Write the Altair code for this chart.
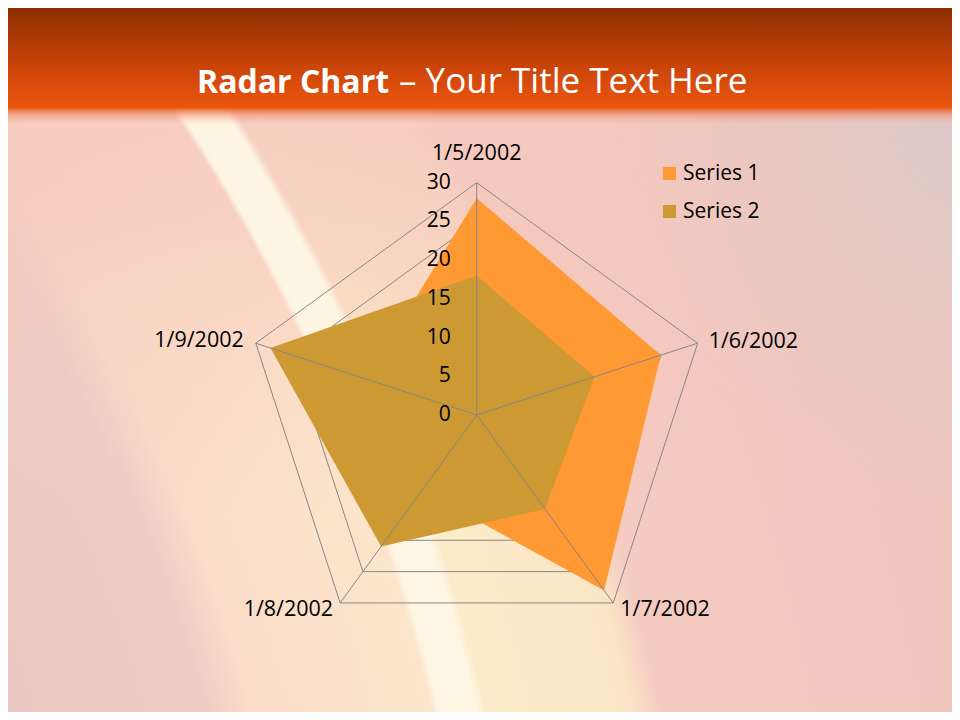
import math
import altair as alt
import pandas as pd

# ---------------- data ----------------
categories = ["1/5/2002", "1/6/2002", "1/7/2002", "1/8/2002", "1/9/2002"]
series_names = ["Series 1", "Series 2"]
series1 = [28, 25, 28, 12, 15]
series2 = [18, 16, 15, 21, 28]
tick_values = [0, 5, 10, 15, 20, 25, 30]
title_bold = "Radar Chart"
title_rest = "– Your Title Text Here"

# ---------------- layout / style ----------------
W, H = 944, 704
CX, CY = 468.7, 407.0
R_PX = 232.3
VMAX = 30
K = R_PX / VMAX
FONT = "Open Sans"
C_S1 = "#FF9933"
C_S2 = "#CC9933"
GRID = "#878787"

xs = alt.Scale(domain=[-CX / K, (W - CX) / K], nice=False, zero=False)
ys = alt.Scale(domain=[-(H - CY) / K, CY / K], nice=False, zero=False)
n = len(categories)


def polar(v, i):
    a = math.radians(90 - 72 * i)
    return v * math.cos(a), v * math.sin(a)


poly_rows = []
for name, vals in zip(series_names, [series1, series2]):
    for j in range(n + 1):
        i = j % n
        x, y = polar(vals[i], i)
        poly_rows.append({"series": name, "category": categories[i],
                          "value": vals[i], "x": x, "y": y, "ord": j})
poly = pd.DataFrame(poly_rows)

grid_rows = []
for lv in tick_values[1:]:
    for j in range(n + 1):
        i = j % n
        x, y = polar(lv, i)
        grid_rows.append({"level": lv, "x": x, "y": y, "ord": j})
grid = pd.DataFrame(grid_rows)

spokes = pd.DataFrame([
    {"category": c, "x": 0.0, "y": 0.0,
     "x2": polar(VMAX, i)[0], "y2": polar(VMAX, i)[1]}
    for i, c in enumerate(categories)
])

# label placement (pixel offsets from the outer vertex)
label_style = {
    "1/5/2002": ("center", 0, -29),
    "1/6/2002": ("left", 11, -1),
    "1/7/2002": ("left", 7, 7),
    "1/8/2002": ("right", -7, 7),
    "1/9/2002": ("right", -12, -2),
}
lab_rows = []
for i, c in enumerate(categories):
    vx, vy = polar(VMAX, i)
    al, ox, oy = label_style[c]
    lab_rows.append({"category": c, "align": al,
                     "x": vx + ox / K, "y": vy - oy / K})
labels = pd.DataFrame(lab_rows)

ticks = pd.DataFrame({"value": tick_values,
                      "label": [str(t) for t in tick_values]})
ticks["x"] = -26 / K

one = pd.DataFrame({"a": [0]})

# ---------------- background ----------------
RC = 2600.0
bu = -1391 / 944
bv = (1134 + 120) / 944


def off(d):
    return round(d / RC, 4)


bg_radial = {
    "gradient": "radial", "x1": bu, "y1": bv, "r1": 0,
    "x2": bu, "y2": bv, "r2": RC / 944,
    "stops": [
        {"offset": 0, "color": "#E4C4C2"},
        {"offset": off(1400), "color": "#E8C8C3"},
        {"offset": off(1640), "color": "#EECBC4"},
        {"offset": off(1690), "color": "#FADCC8"},
        {"offset": off(1860), "color": "#FCE5CB"},
        {"offset": off(1930), "color": "#FCEDC9"},
        {"offset": off(2060), "color": "#FBE5C6"},
        {"offset": off(2090), "color": "#F5CAC1"},
        {"offset": off(2350), "color": "#F1C6BE"},
        {"offset": 1, "color": "#EAC4C0"},
    ],
}
pink_overlay = {
    "gradient": "linear", "x1": 0, "y1": 0, "x2": 0, "y2": 1,
    "stops": [
        {"offset": 0, "color": "rgba(246,200,189,0.95)"},
        {"offset": 0.3, "color": "rgba(246,200,189,0.7)"},
        {"offset": 0.5, "color": "rgba(246,200,189,0.3)"},
        {"offset": 0.72, "color": "rgba(246,200,189,0)"},
        {"offset": 1, "color": "rgba(246,200,189,0)"},
    ],
}
band = {
    "gradient": "radial", "x1": bu, "y1": bv, "r1": 0,
    "x2": bu, "y2": bv, "r2": RC / 944,
    "stops": [
        {"offset": 0, "color": "rgba(254,246,228,0)"},
        {"offset": off(1866), "color": "rgba(254,246,228,0)"},
        {"offset": off(1872), "color": "rgba(254,246,228,0.95)"},
        {"offset": off(1910), "color": "rgba(254,246,228,0.95)"},
        {"offset": off(1918), "color": "rgba(254,246,228,0)"},
        {"offset": 1, "color": "rgba(254,246,228,0)"},
    ],
}
corner = {
    "gradient": "radial", "x1": 972 / 944, "y1": (112 + 120) / 944, "r1": 0,
    "x2": 972 / 944, "y2": (112 + 120) / 944, "r2": 380 / 944,
    "stops": [
        {"offset": 0, "color": "rgba(212,200,200,0.75)"},
        {"offset": 1, "color": "rgba(212,200,200,0)"},
    ],
}
header = {
    "gradient": "linear", "x1": 0, "y1": 0, "x2": 0, "y2": 1,
    "stops": [
        {"offset": 0, "color": "#8C2E00"},
        {"offset": 0.44, "color": "#C44107"},
        {"offset": 0.79, "color": "#E6530E"},
        {"offset": 0.85, "color": "#E8560F"},
        {"offset": 0.9, "color": "rgba(238,120,80,0.6)"},
        {"offset": 1, "color": "rgba(244,190,175,0)"},
    ],
}


def full_rect(fill, y2=H):
    return alt.Chart(one).mark_rect(fill=fill).encode(
        x=alt.value(0), x2=alt.value(W), y=alt.value(0), y2=alt.value(y2))


bg_layers = [full_rect(bg_radial), full_rect(pink_overlay), full_rect(band),
             full_rect(corner), full_rect(header, 117)]

title_a = alt.Chart(pd.DataFrame({"t": [title_bold]})).mark_text(
    align="left", baseline="alphabetic", font=FONT, fontSize=32,
    fontWeight="bold", color="white").encode(
    x=alt.value(189), y=alt.value(85), text="t:N")
title_b = alt.Chart(pd.DataFrame({"t": [title_rest]})).mark_text(
    align="left", baseline="alphabetic", font=FONT, fontSize=35,
    fontWeight="normal", color="white").encode(
    x=alt.value(391), y=alt.value(85), text="t:N")

X = alt.X("x:Q", scale=xs, axis=None)
Y = alt.Y("y:Q", scale=ys, axis=None)

grid_layer = alt.Chart(grid).mark_line(color=GRID, strokeWidth=1).encode(
    x=X, y=Y, detail="level:N", order="ord:Q")

color = alt.Color(
    "series:N",
    scale=alt.Scale(domain=series_names, range=[C_S1, C_S2]),
    legend=alt.Legend(
        title=None, orient="none", legendX=651, legendY=155,
        symbolType="square", symbolSize=169, symbolStrokeWidth=0,
        labelFont=FONT, labelFontSize=21, labelColor="black",
        labelOffset=3, rowPadding=16, padding=0, symbolOpacity=1),
)

fill1 = alt.Chart(poly).transform_filter(
    alt.datum.series == series_names[0]).mark_line(
    filled=True, opacity=1).encode(x=X, y=Y, color=color, order="ord:Q")
fill2 = alt.Chart(poly).transform_filter(
    alt.datum.series == series_names[1]).mark_line(
    filled=True, opacity=1).encode(x=X, y=Y, color=color, order="ord:Q")

spoke_layer = alt.Chart(spokes).mark_rule(color=GRID, strokeWidth=1).encode(
    x=X, y=Y, x2="x2:Q", y2="y2:Q")

tick_layer = alt.Chart(ticks).mark_text(
    align="right", baseline="middle", font=FONT, fontSize=21,
    color="black").encode(
    x=X, y=alt.Y("value:Q", scale=ys, axis=None), text="label:N")

label_layers = []
for al in ["center", "left", "right"]:
    label_layers.append(
        alt.Chart(labels).transform_filter(alt.datum.align == al).mark_text(
            align=al, baseline="middle", font=FONT, fontSize=21.5,
            color="black").encode(x=X, y=Y, text="category:N"))

chart = alt.layer(
    *bg_layers, title_a, title_b, grid_layer, fill1, fill2, spoke_layer,
    tick_layer, *label_layers
).properties(width=W, height=H, padding=0).configure_view(stroke=None)

chart.save("out.html", embed_options={"renderer": "svg", "actions": False})
